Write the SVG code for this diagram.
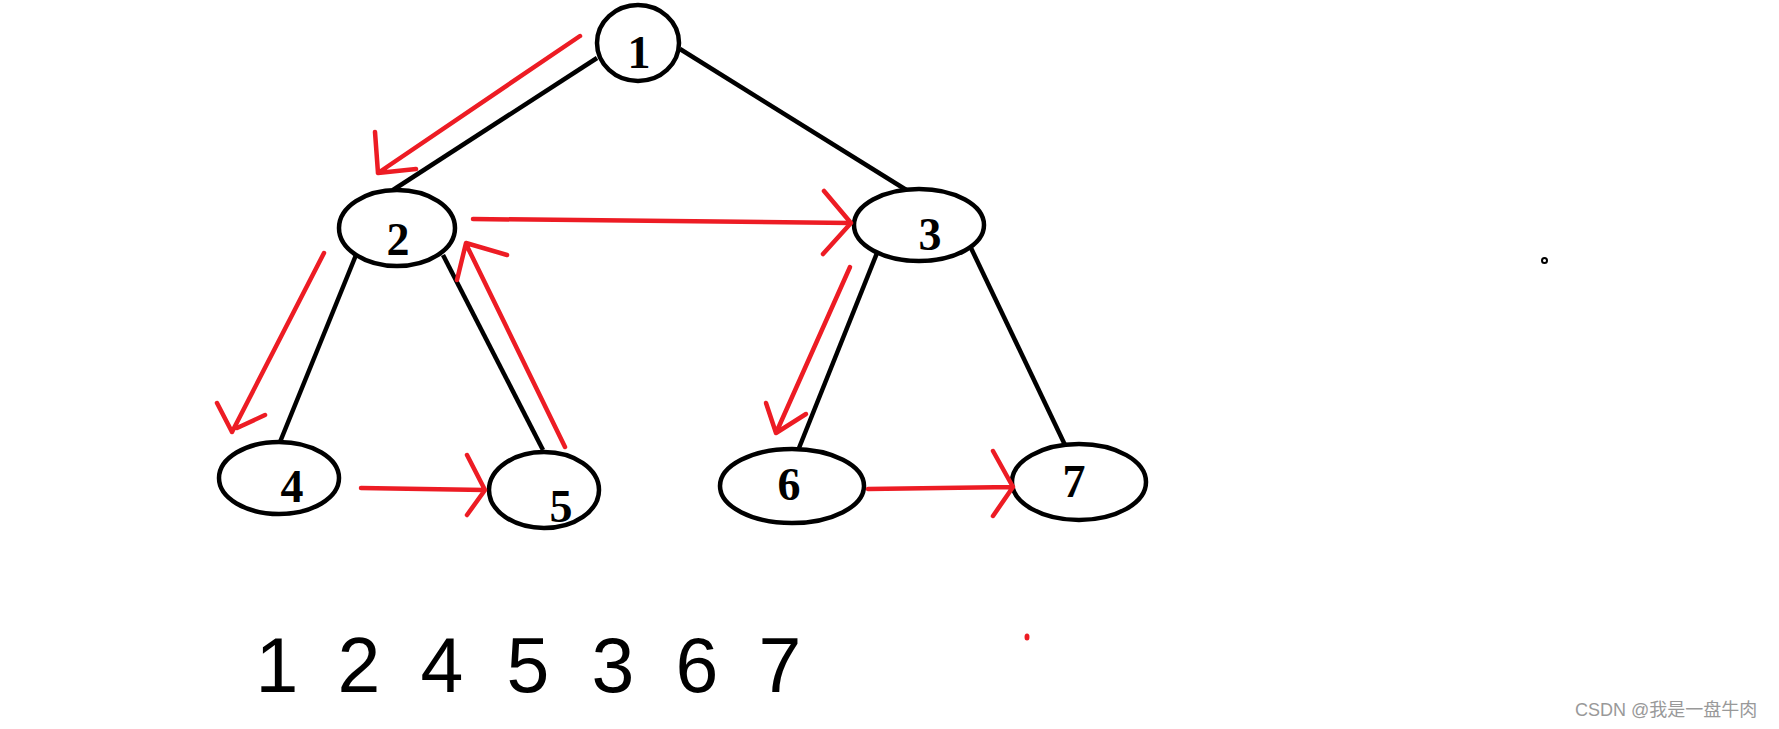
<svg xmlns="http://www.w3.org/2000/svg" width="1779" height="729" viewBox="0 0 1779 729">
<style>
.n{fill:#fff;stroke:#000;stroke-width:4.5}
.e{stroke:#000;stroke-width:4.5;fill:none}
.r{stroke:#ED1C24;stroke-width:4.5;fill:none;stroke-linecap:round;stroke-linejoin:round}
.l{font-family:"Liberation Serif","Times New Roman",serif;font-weight:bold;font-size:46px;text-anchor:middle;fill:#000}
.s{font-family:"Liberation Sans",Arial,sans-serif;font-size:77px;text-anchor:middle;fill:#000}
.w{font-family:"Liberation Sans",Arial,"Noto Sans CJK SC",sans-serif;font-size:18px;fill:#999}
</style>
<rect width="1779" height="729" fill="#fff"/>
<g id="edges">
<line class="e" x1="597" y1="58" x2="393" y2="190"/>
<line class="e" x1="680" y1="49" x2="908" y2="191"/>
<line class="e" x1="356" y1="255" x2="280" y2="442"/>
<line class="e" x1="443" y1="255" x2="543" y2="450"/>
<line class="e" x1="877" y1="253" x2="799" y2="448"/>
<line class="e" x1="971" y1="248" x2="1065" y2="445"/>
</g>
<g id="node1"><ellipse class="n" cx="638" cy="43" rx="41" ry="38"/><text class="l" x="639" y="68">1</text></g>
<g id="node2"><ellipse class="n" cx="397" cy="228" rx="58" ry="38"/><text class="l" x="398" y="255">2</text></g>
<g id="node3"><ellipse class="n" cx="919" cy="225" rx="65" ry="36"/><text class="l" x="930" y="250">3</text></g>
<g id="node4"><ellipse class="n" cx="279" cy="478" rx="60" ry="36"/><text class="l" x="292" y="502">4</text></g>
<g id="node5"><ellipse class="n" cx="544" cy="490" rx="55" ry="38"/><text class="l" x="561" y="522">5</text></g>
<g id="node6"><ellipse class="n" cx="792" cy="486" rx="72" ry="37"/><text class="l" x="789" y="500">6</text></g>
<g id="node7"><ellipse class="n" cx="1079" cy="482" rx="67" ry="38"/><text class="l" x="1074" y="497">7</text></g>
<g id="arrows">
<path class="r" d="M580 36 L378 173 M375 132 L378 173 L416 169"/>
<path class="r" d="M473 219 L851 223 M824 191 L851 223 L823 254"/>
<path class="r" d="M324 253 L232 432 M217 403 L232 432 M237 428 L265 415"/>
<path class="r" d="M565 447 L466 244 M457 280 L466 243 L507 255"/>
<path class="r" d="M361 488 L485 490 M467 455 L485 490 L467 515"/>
<path class="r" d="M850 267 L776 433 M766 403 L776 433 L806 414"/>
<path class="r" d="M868 489 L1013 487 M993 451 L1013 487 L993 516"/>
</g>
<ellipse cx="1027" cy="637" rx="2.5" ry="3.5" fill="#ED1C24"/>
<circle cx="1544.5" cy="260.5" r="2.5" fill="none" stroke="#000" stroke-width="2"/>
<g id="sequence">
<text class="s" x="277" y="692">1</text>
<text class="s" x="359" y="692">2</text>
<text class="s" x="442" y="692">4</text>
<text class="s" x="528" y="692">5</text>
<text class="s" x="613" y="692">3</text>
<text class="s" x="697" y="692">6</text>
<text class="s" x="780" y="692">7</text>
</g>
<text class="w" x="1575" y="716">CSDN @我是一盘牛肉</text>
</svg>
